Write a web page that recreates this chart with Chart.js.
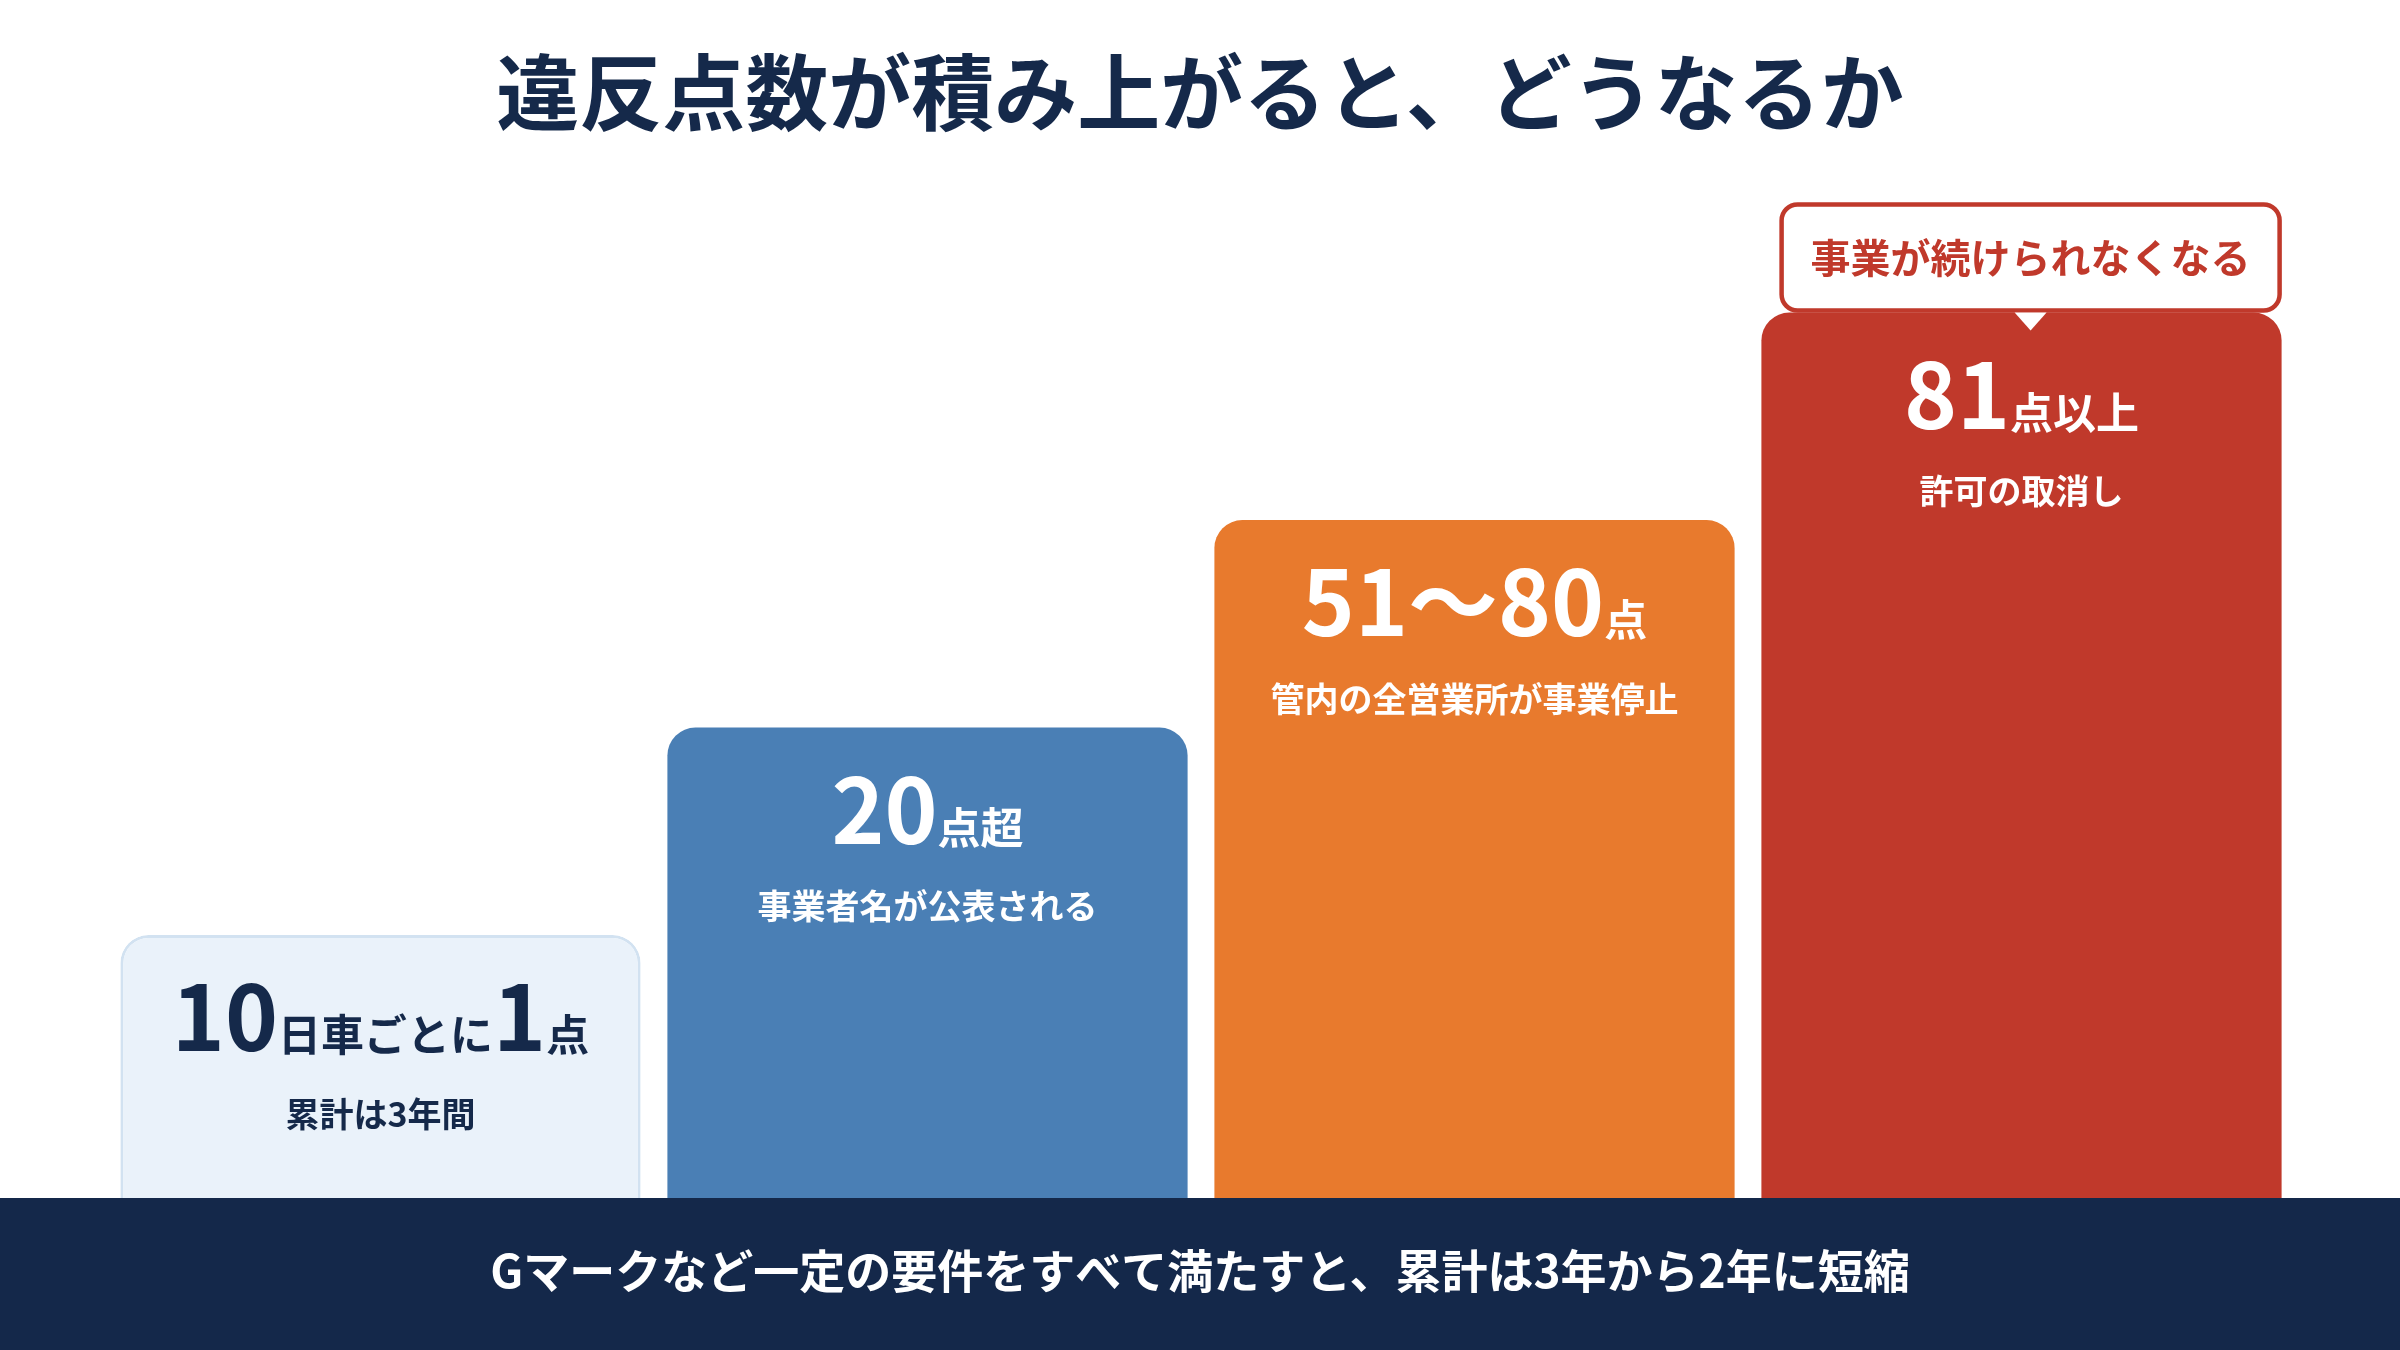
<!DOCTYPE html>
<html lang="ja">
<head>
<meta charset="utf-8">
<script src="https://cdn.jsdelivr.net/npm/chart.js@4.4.1/dist/chart.umd.min.js"></script>
<style>
  html, body { margin: 0; padding: 0; background: #ffffff; }
  #wrap { position: relative; width: 2400px; height: 1350px; }
</style>
</head>
<body>
<div id="wrap"><canvas id="chart"></canvas></div>
<script>
// ─── データ ─────────────────────────────────────────────
const tierLabels = ['10日車ごとに1点', '20点超', '51～80点', '81点以上'];
const tierLevels = [2, 3, 4, 5];
// 見出し: [テキスト, 大きさ('big' | 'small')]
const tierHeadlines = [
  [['10', 'big'], ['日車ごとに', 'small'], ['1', 'big'], ['点', 'small']],
  [['20', 'big'], ['点超', 'small']],
  [['51～80', 'big'], ['点', 'small']],
  [['81', 'big'], ['点以上', 'small']]
];
const tierNotes = ['累計は3年間', '事業者名が公表される', '管内の全営業所が事業停止', '許可の取消し'];
const titleText = '違反点数が積み上がると、どうなるか';
const calloutText = '事業が続けられなくなる';
const footerText = 'Gマークなど一定の要件をすべて満たすと、累計は3年から2年に短縮';

// ─── 色 ─────────────────────────────────────────────────
const COLORS = {
  navy:     '#15294a',
  footer:   '#14284a',
  white:    '#ffffff',
  red:      '#c0392b',
  bars:     ['#eaf2fa', '#4a7fb5', '#e87a2d', '#c0392b'],
  borders:  ['#d2e2f1', '#4a7fb5', '#e87a2d', '#c0392b'],
  text:     ['#15294a', '#ffffff', '#ffffff', '#ffffff']
};
const FONT = '"Noto Sans CJK JP", "Noto Sans", sans-serif';

function drawRich(ctx, parts, cx, baseline, color) {
  const sizes = { big: 90, small: 43 };
  let total = 0;
  const widths = parts.map(([t, s]) => {
    ctx.font = `bold ${sizes[s]}px ${FONT}`;
    const w = ctx.measureText(t).width;
    total += w;
    return w;
  });
  let x = cx - total / 2;
  ctx.fillStyle = color;
  ctx.textAlign = 'left';
  ctx.textBaseline = 'alphabetic';
  parts.forEach(([t, s], i) => {
    ctx.font = `bold ${sizes[s]}px ${FONT}`;
    ctx.fillText(t, x, baseline);
    x += widths[i];
  });
}

function roundRect(ctx, x, y, w, h, r) {
  ctx.beginPath();
  ctx.moveTo(x + r, y);
  ctx.lineTo(x + w - r, y);
  ctx.arcTo(x + w, y, x + w, y + r, r);
  ctx.lineTo(x + w, y + h - r);
  ctx.arcTo(x + w, y + h, x + w - r, y + h, r);
  ctx.lineTo(x + r, y + h);
  ctx.arcTo(x, y + h, x, y + h - r, r);
  ctx.lineTo(x, y + r);
  ctx.arcTo(x, y, x + r, y, r);
  ctx.closePath();
}

const decorPlugin = {
  id: 'decor',
  afterDatasetsDraw(chart) {
    const ctx = chart.ctx;
    const meta = chart.getDatasetMeta(0);
    ctx.save();

    // タイトル
    ctx.fillStyle = COLORS.navy;
    ctx.font = `bold 83px ${FONT}`;
    ctx.textAlign = 'center';
    ctx.textBaseline = 'middle';
    ctx.fillText(titleText, chart.width / 2, 92);

    // 棒の中の文字
    meta.data.forEach((bar, i) => {
      drawRich(ctx, tierHeadlines[i], bar.x, bar.y + 116, COLORS.text[i]);
      ctx.fillStyle = COLORS.text[i];
      ctx.font = `bold 34px ${FONT}`;
      ctx.textAlign = 'center';
      ctx.textBaseline = 'middle';
      ctx.fillText(tierNotes[i], bar.x, bar.y + 179);
    });

    // 吹き出し (最後の棒)
    const last = meta.data[meta.data.length - 1];
    const bw = 498, bh = 106;
    const right = last.x + last.width / 2 - 2;
    const bx = right - bw, by = last.y - bh - 2;
    const tipX = bx + bw / 2;
    ctx.lineWidth = 4.5;
    ctx.strokeStyle = COLORS.red;
    ctx.fillStyle = COLORS.white;
    roundRect(ctx, bx, by, bw, bh, 16);
    ctx.fill();
    ctx.stroke();
    ctx.beginPath();
    ctx.moveTo(tipX - 16, by + bh + 2);
    ctx.lineTo(tipX + 16, by + bh + 2);
    ctx.lineTo(tipX, by + bh + 20);
    ctx.closePath();
    ctx.fillStyle = COLORS.white;
    ctx.fill();
    ctx.fillStyle = COLORS.red;
    ctx.font = `bold 40px ${FONT}`;
    ctx.textAlign = 'center';
    ctx.textBaseline = 'middle';
    ctx.fillText(calloutText, tipX, by + bh / 2);

    // フッター帯
    ctx.fillStyle = COLORS.footer;
    ctx.fillRect(0, 1198, chart.width, chart.height - 1198);
    ctx.fillStyle = COLORS.white;
    ctx.font = `bold 46px ${FONT}`;
    ctx.fillText(footerText, chart.width / 2, 1271);

    ctx.restore();
  }
};

new Chart(document.getElementById('chart'), {
  type: 'bar',
  data: {
    labels: tierLabels,
    datasets: [{
      data: tierLevels,
      backgroundColor: COLORS.bars,
      borderColor: COLORS.borders,
      borderWidth: [3, 0, 0, 0],
      borderRadius: 28,
      borderSkipped: 'bottom',
      categoryPercentage: 1,
      barPercentage: 0.951
    }]
  },
  options: {
    responsive: true,
    maintainAspectRatio: false,
    animation: false,
    devicePixelRatio: 1,
    layout: { padding: { top: 105, bottom: 0, left: 107, right: 105 } },
    plugins: { legend: { display: false }, tooltip: { enabled: false } },
    scales: {
      x: { display: false },
      y: { display: false, min: 0, max: 6 }
    }
  },
  plugins: [decorPlugin]
});
</script>
</body>
</html>
